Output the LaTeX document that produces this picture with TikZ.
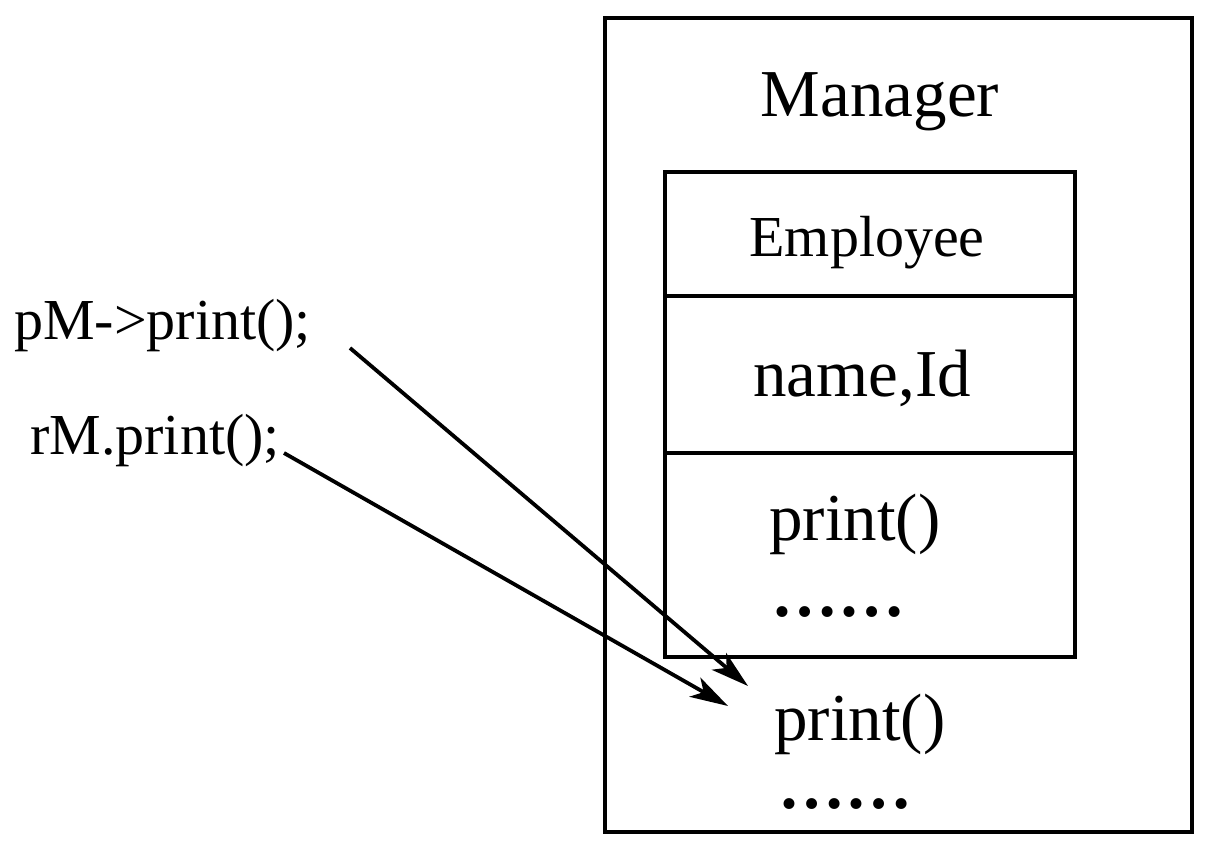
\documentclass[tikz,border=0pt]{standalone}
\usepackage{fontspec}
\setmainfont{Liberation Serif}
\usetikzlibrary{arrows.meta}
\begin{document}
\begin{tikzpicture}[x=1pt,y=1pt,
  box/.style={draw, line width=4.8pt, inner sep=0pt},
  big/.style={font=\fontsize{67}{70}\selectfont, inner sep=0pt, anchor=base},
  mid/.style={font=\fontsize{58}{62}\selectfont, inner sep=0pt, anchor=base},
  dots/.style={font=\fontsize{67}{70}\selectfont\bfseries, inner sep=0pt, anchor=base},
  call/.style={line width=3.8pt, -{Stealth[length=38pt,width=22pt,inset=10pt]}}]
\useasboundingbox (0,0) rectangle (1206,852);
\node[box, minimum width=587pt, minimum height=814pt] (outer) at (898.5,427) {};
\node[box, minimum width=410pt, minimum height=485pt] (inner) at (870,437.5) {};
\coordinate (d1l) at (665,556); \coordinate (d1r) at (1075,556);
\coordinate (d2l) at (665,399); \coordinate (d2r) at (1075,399);
\draw[line width=4.8pt] (d1l) -- (d1r);
\draw[line width=4.8pt] (d2l) -- (d2r);
\node[big] (mgr) at (880,735) {Manager};
\node[mid] (emp) at (867,595) {Employee};
\node[big] (nid) at (862,455) {name,Id};
\node[big] (pr1) at (855,312) {print()};
\node[dots] (dt1) at (838,236) {……};
\node[big] (pr2) at (860,112) {print()};
\node[dots] (dt2) at (845,44) {……};
\node[mid, anchor=base west] (pm) at (14,512) {pM->print();};
\node[mid, anchor=base west] (rm) at (30,397) {rM.print();};
\coordinate (a1s) at (350,504); \coordinate (a1e) at (748,166);
\coordinate (a2s) at (284,399); \coordinate (a2e) at (728,146);
\draw[call] (a1s) -- (a1e);
\draw[call] (a2s) -- (a2e);
\end{tikzpicture}
\end{document}
